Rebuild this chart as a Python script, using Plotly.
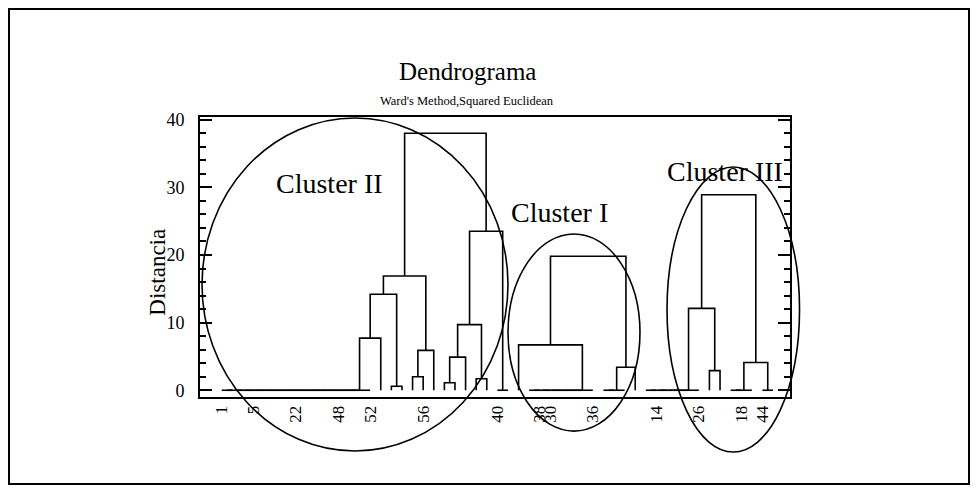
import plotly.graph_objects as go

# ---------------- data ----------------
# leaves are numbered by their position along the x axis (1..53)
tick_positions = [1, 4, 8, 12, 15, 20, 27, 31, 32, 36, 42, 46, 50, 52]
tick_labels = ["1", "5", "22", "48", "52", "56", "40", "38", "30", "36", "14", "26", "18", "44"]

# merge = [left, right, height]; tuple = group of leaves joined at distance ~0
cluster_II = [
    [
        [[(1, 2, 3, 4, 5, 6, 7, 8, 9, 10, 11, 12, 13, 14, 15), 16, 7.7], [17, 18, 0.6], 14.2],
        [[19, 20, 2.0], 21, 5.9],
        16.9,
    ],
    [
        [[[22, 23, 1.1], 24, 4.9], [25, 26, 1.7], 9.7],
        (27, 28),
        23.5,
    ],
    38.0,
]
cluster_I = [[29, (30, 31, 32, 33, 34, 35, 36), 6.7], [(37, 38, 39), 40, 3.4], 19.8]
cluster_III = [[(41, 42, 43, 44, 45, 46), [47, 48, 2.9], 12.1], [(49, 50, 51), (52, 53), 4.1], 28.9]

cluster_names = ["Cluster II", "Cluster I", "Cluster III"]
# label anchor (leaf units, distance)
cluster_label_x = [11.2, 32.9, 48.5]
cluster_label_y = [30.6, 26.3, 32.4]
# ellipse extents (leaf units, distance)
ellipse_x0 = [-0.86, 28.0, 43.0]
ellipse_x1 = [28.0, 40.45, 55.5]
ellipse_y0 = [-8.99, -6.04, -9.14]
ellipse_y1 = [40.26, 23.1, 33.0]

X_RANGE = [-1.05, 54.6]
Y_RANGE = [-1.0, 40.4]


def layout_node(node, xs, ys):
    if isinstance(node, int):
        return float(node), 0.0
    if isinstance(node, tuple):
        x = float(node[0])
        for leaf in node[1:]:
            xs += [x, leaf, None]
            ys += [0, 0, None]
            x = (x + leaf) / 2.0
        return x, 0.0
    left, right, h = node
    xl, hl = layout_node(left, xs, ys)
    xr, hr = layout_node(right, xs, ys)
    xs += [xl, xl, xr, xr, None]
    ys += [hl, h, h, hr, None]
    return (xl + xr) / 2.0, h


xs, ys = [], []
for c in (cluster_II, cluster_I, cluster_III):
    layout_node(c, xs, ys)

FONT = "Liberation Serif, Times New Roman, serif"

fig = go.Figure()
fig.add_trace(go.Scatter(x=xs, y=ys, mode="lines", line=dict(color="black", width=1.6),
                         hoverinfo="skip", showlegend=False))


def to_px(v, r):
    return (v - r[0]) / (r[1] - r[0])


shapes = []
for i in range(3):
    shapes.append(dict(type="circle", xref="paper", yref="paper",
                       x0=to_px(ellipse_x0[i], X_RANGE), x1=to_px(ellipse_x1[i], X_RANGE),
                       y0=to_px(ellipse_y0[i], Y_RANGE), y1=to_px(ellipse_y1[i], Y_RANGE),
                       line=dict(color="black", width=1.6), layer="above"))
# outer border
shapes.append(dict(type="rect", xref="paper", yref="paper", x0=-0.3237, x1=1.3034,
                   y0=-0.3107, y1=1.3857, line=dict(color="black", width=2)))

annotations = []
for i in range(3):
    annotations.append(dict(x=cluster_label_x[i], y=cluster_label_y[i], xref="x", yref="y",
                            xanchor="center", yanchor="middle",
                            text=cluster_names[i], showarrow=False,
                            font=dict(family=FONT, size=28, color="black")))
annotations.append(dict(x=0.453, y=1.161, xref="paper", yref="paper", text="Dendrograma",
                        xanchor="center", yanchor="middle",
                        showarrow=False, font=dict(family=FONT, size=25, color="black")))
annotations.append(dict(x=0.453, y=1.057, xref="paper", yref="paper",
                        text="Ward's Method,Squared Euclidean",
                        xanchor="center", yanchor="middle",
                        showarrow=False, font=dict(family=FONT, size=12.5, color="black")))
annotations.append(dict(x=-0.072, y=0.446, xref="paper", yref="paper", text="Distancia",
                        xanchor="center", yanchor="middle",
                        textangle=-90, showarrow=False,
                        font=dict(family=FONT, size=23, color="black")))

fig.update_layout(
    width=978, height=492,
    margin=dict(l=200, r=188, t=117, b=95, pad=0),
    paper_bgcolor="white", plot_bgcolor="white",
    shapes=shapes, annotations=annotations,
    xaxis=dict(range=X_RANGE, tickmode="array", tickvals=tick_positions, ticktext=tick_labels,
               tickangle=-90, ticks="", showline=True, mirror=True, linecolor="black",
               linewidth=2, showgrid=False, zeroline=False,
               tickfont=dict(family=FONT, size=17, color="black")),
    yaxis=dict(range=Y_RANGE, tickmode="array", tickvals=[0, 10, 20, 30, 40],
               ticks="inside", ticklen=12, tickwidth=2, tickcolor="black",
               ticklabelstandoff=10,
               minor=dict(ticks="inside", dtick=2, tick0=0, ticklen=6, tickwidth=2,
                          tickcolor="black", showgrid=False),
               showline=True, mirror="ticks", linecolor="black", linewidth=2,
               showgrid=False, zeroline=False,
               tickfont=dict(family=FONT, size=18, color="black")),
)

fig.write_html("out.html", config={"displayModeBar": False},
               post_script="document.body.style.margin='0px';")
